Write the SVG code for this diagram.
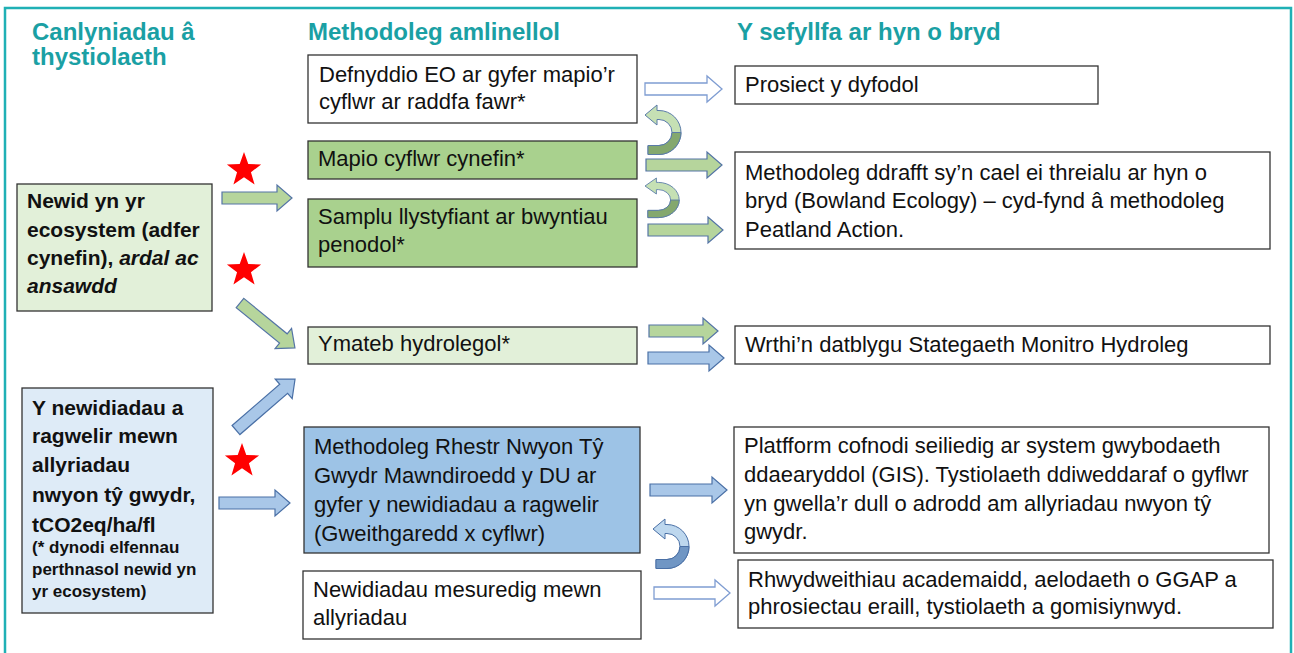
<svg xmlns="http://www.w3.org/2000/svg" width="1294" height="653" viewBox="0 0 1294 653">
<defs>
<style>
.hd{font-family:"Liberation Sans",Arial,sans-serif;font-weight:bold;font-size:24px;fill:#1AA0A4}
.tx{font-family:"Liberation Sans",Arial,sans-serif;font-size:22px;fill:#111}
.bd{font-family:"Liberation Sans",Arial,sans-serif;font-weight:bold;font-size:21px;fill:#111}
.sm{font-family:"Liberation Sans",Arial,sans-serif;font-weight:bold;font-size:17px;fill:#111}
.box{stroke:#333;stroke-width:1.3}
.ga{fill:#B6D59C;stroke:#5474A6;stroke-width:1.2}
.ba{fill:#A9C7E8;stroke:#4A70A6;stroke-width:1.2}
.wa{fill:#fff;stroke:#7F9DD2;stroke-width:1.3}
.star{fill:#FF0000}
</style>
<path id="cArrow" d="M0,0 L12,-10 L12,-4.5 L14,-4.5 A22,22 0 0 1 14,39.5 L3,39.5 L3,30.5 L14,30.5 A13,13 0 0 0 14,4.5 L12,4.5 L12,10 Z"/>
<path id="cArrowLow" d="M36,17.5 A22,22 0 0 1 14,39.5 L3,39.5 L3,30.5 L14,30.5 A13,13 0 0 0 27,17.5 Z"/>
<polygon id="star5" points="0,-18 4.29,-5.91 17.12,-5.56 6.94,2.26 10.58,14.56 0,7.3 -10.58,14.56 -6.94,2.26 -17.12,-5.56 -4.29,-5.91"/>
</defs>
<rect x="0" y="0" width="1294" height="653" fill="#fff"/>
<rect x="5" y="8" width="1286" height="700" fill="none" stroke="#1FB0B5" stroke-width="2.5"/>

<g id="headings">
<text class="hd" x="32" y="40">Canlyniadau â</text>
<text class="hd" x="32" y="65">thystiolaeth</text>
<text class="hd" x="308" y="40">Methodoleg amlinellol</text>
<text class="hd" x="737" y="40">Y sefyllfa ar hyn o bryd</text>
</g>

<g id="node-newid">
<rect class="box" x="17" y="184" width="195" height="127" fill="#E2F0D9"/>
<text class="bd" x="27" y="208">Newid yn yr</text>
<text class="bd" x="27" y="237">ecosystem (adfer</text>
<text class="bd" x="27" y="265">cynefin), <tspan font-style="italic">ardal ac</tspan></text>
<text class="bd" x="27" y="293" font-style="italic">ansawdd</text>
</g>

<g id="node-allyriadau">
<rect class="box" x="22" y="388" width="191" height="225" fill="#DEEBF7"/>
<text class="bd" x="32" y="415">Y newidiadau a</text>
<text class="bd" x="32" y="443">ragwelir mewn</text>
<text class="bd" x="32" y="472">allyriadau</text>
<text class="bd" x="32" y="502">nwyon tŷ gwydr,</text>
<text class="bd" x="32" y="532">tCO2eq/ha/fl</text>
<text class="sm" x="32" y="553">(* dynodi elfennau</text>
<text class="sm" x="32" y="575">perthnasol newid yn</text>
<text class="sm" x="32" y="597">yr ecosystem)</text>
</g>

<g id="node-eo">
<rect class="box" x="308" y="55" width="329" height="68" fill="#fff"/>
<text class="tx" x="319" y="82">Defnyddio EO ar gyfer mapio’r</text>
<text class="tx" x="319" y="109">cyflwr ar raddfa fawr*</text>
</g>
<g id="node-mapio">
<rect class="box" x="308" y="141" width="329" height="38" fill="#A9D18E"/>
<text class="tx" x="318" y="166">Mapio cyflwr cynefin*</text>
</g>
<g id="node-samplu">
<rect class="box" x="308" y="199" width="329" height="68" fill="#A9D18E"/>
<text class="tx" x="318" y="224">Samplu llystyfiant ar bwyntiau</text>
<text class="tx" x="318" y="252">penodol*</text>
</g>
<g id="node-ymateb">
<rect class="box" x="308" y="327" width="329" height="37" fill="#E2F0D9"/>
<text class="tx" x="318" y="351">Ymateb hydrolegol*</text>
</g>
<g id="node-rhestr">
<rect class="box" x="304" y="427" width="336" height="126" fill="#9DC3E6"/>
<text class="tx" x="314" y="454">Methodoleg Rhestr Nwyon Tŷ</text>
<text class="tx" x="314" y="483">Gwydr Mawndiroedd y DU ar</text>
<text class="tx" x="314" y="512">gyfer y newidiadau a ragwelir</text>
<text class="tx" x="314" y="541">(Gweithgaredd x cyflwr)</text>
</g>
<g id="node-mesuredig">
<rect class="box" x="303" y="571" width="338" height="68" fill="#fff"/>
<text class="tx" x="313" y="597">Newidiadau mesuredig mewn</text>
<text class="tx" x="313" y="625">allyriadau</text>
</g>

<g id="node-prosiect">
<rect class="box" x="735" y="66" width="363" height="38" fill="#fff"/>
<text class="tx" x="745" y="92">Prosiect y dyfodol</text>
</g>
<g id="node-ddrafft">
<rect class="box" x="735" y="152" width="535" height="97" fill="#fff"/>
<text class="tx" x="745" y="180">Methodoleg ddrafft sy’n cael ei threialu ar hyn o</text>
<text class="tx" x="745" y="208">bryd (Bowland Ecology) – cyd-fynd â methodoleg</text>
<text class="tx" x="745" y="237">Peatland Action.</text>
</g>
<g id="node-wrthi">
<rect class="box" x="735" y="326" width="535" height="38" fill="#fff"/>
<text class="tx" x="745" y="352">Wrthi’n datblygu Stategaeth Monitro Hydroleg</text>
</g>
<g id="node-platfform">
<rect class="box" x="734" y="427" width="535" height="126" fill="#fff"/>
<text class="tx" x="744" y="453">Platfform cofnodi seiliedig ar system gwybodaeth</text>
<text class="tx" x="744" y="482">ddaearyddol (GIS). Tystiolaeth ddiweddaraf o gyflwr</text>
<text class="tx" x="744" y="511">yn gwella’r dull o adrodd am allyriadau nwyon tŷ</text>
<text class="tx" x="744" y="539">gwydr.</text>
</g>
<g id="node-rhwydweithiau">
<rect class="box" x="738" y="560" width="535" height="68" fill="#fff"/>
<text class="tx" x="748" y="587">Rhwydweithiau academaidd, aelodaeth o GGAP a</text>
<text class="tx" x="748" y="614">phrosiectau eraill, tystiolaeth a gomisiynwyd.</text>
</g>

<g id="stars">
<use href="#star5" class="star" x="244" y="170"/>
<use href="#star5" class="star" x="244" y="270"/>
<use href="#star5" class="star" x="242" y="461"/>
</g>

<g id="connectors">
<path class="wa" transform="translate(645,89)" d="M0,-6 H62 V-13 L77,0 L62,13 V6 H0 Z"/>
<path class="ga" transform="translate(646,165)" d="M0,-6 H61 V-13 L76,0 L61,13 V6 H0 Z"/>
<path class="ga" transform="translate(648,230)" d="M0,-6 H60 V-13 L75,0 L60,13 V6 H0 Z"/>
<path class="ga" transform="translate(649,331)" d="M0,-6 H54 V-13 L69,0 L54,13 V6 H0 Z"/>
<path class="ba" transform="translate(648,358)" d="M0,-6 H61 V-13 L76,0 L61,13 V6 H0 Z"/>
<path class="ba" transform="translate(650,490)" d="M0,-6 H62 V-13 L77,0 L62,13 V6 H0 Z"/>
<path class="wa" transform="translate(654,593)" d="M0,-6 H61 V-13 L76,0 L61,13 V6 H0 Z"/>
<path class="ga" transform="translate(222,198)" d="M0,-6 H55 V-13 L70,0 L55,13 V6 H0 Z"/>
<path class="ga" transform="translate(240,303) rotate(39.3)" d="M0,-6 H56 V-13 L71,0 L56,13 V6 H0 Z"/>
<path class="ba" transform="translate(236,430) rotate(-40.8)" d="M0,-6 H63 V-13 L78,0 L63,13 V6 H0 Z"/>
<path class="ba" transform="translate(219,503)" d="M0,-6 H56 V-13 L71,0 L56,13 V6 H0 Z"/>
<g transform="translate(645,115)">
<use href="#cArrow" fill="#C5E0B4" stroke="#5A7BA8" stroke-width="1"/>
<use href="#cArrowLow" fill="#84A86E" stroke="#5A7BA8" stroke-width="1"/>
</g>
<g transform="translate(645,186) scale(0.95,0.8)">
<use href="#cArrow" fill="#C5E0B4" stroke="#5A7BA8" stroke-width="1"/>
<use href="#cArrowLow" fill="#84A86E" stroke="#5A7BA8" stroke-width="1"/>
</g>
<g transform="translate(653,529)">
<use href="#cArrow" fill="#BDD7EE" stroke="#4A70A6" stroke-width="1"/>
<use href="#cArrowLow" fill="#7096C4" stroke="#4A70A6" stroke-width="1"/>
</g>
</g>
</svg>
